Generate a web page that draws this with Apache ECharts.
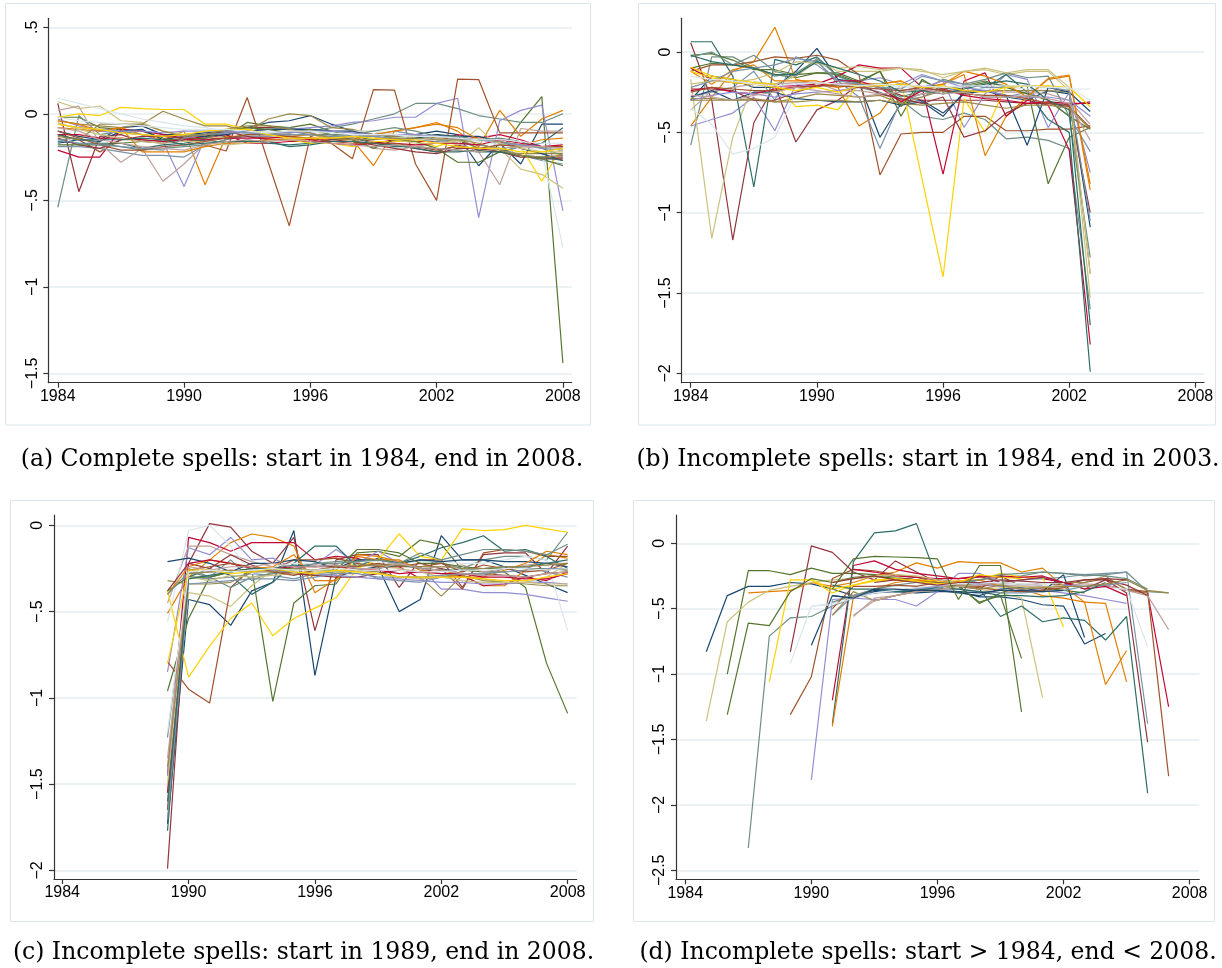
<!DOCTYPE html>
<html><head><meta charset="utf-8">
<script src="https://cdn.jsdelivr.net/npm/echarts@6/dist/echarts.min.js"></script>
<style>html,body{margin:0;padding:0;background:#fff}#c{width:1222px;height:968px}</style>
</head><body><div id="c"></div>
<script>
// Stata s2color palette (p1..p15)
const palette = ['#1a476f','#90353b','#55752f','#e37e00','#6e8e84','#c10534','#938dd2','#cac27e','#a0522d','#7b92a8','#2d6d66','#9c8847','#bfa19c','#ffd200','#d9e6eb'];

const xTicks = [1984, 1990, 1996, 2002, 2008];
const yTicksA = [0.5, 0, -0.5, -1, -1.5];
const yTicksB = [0, -0.5, -1, -1.5, -2];
const yTicksC = [0, -0.5, -1, -1.5, -2];
const yTicksD = [0, -0.5, -1, -1.5, -2, -2.5];

const captions = [
  '(a) Complete spells: start in 1984, end in 2008.',
  '(b) Incomplete spells: start in 1984, end in 2003.',
  '(c) Incomplete spells: start in 1989, end in 2008.',
  '(d) Incomplete spells: start > 1984, end < 2008.'
];

// Panel (a): every series 1984..2008
const startA = 1984;
const panelA = [
  [-0.10,-0.13,-0.15,-0.08,-0.07,-0.12,-0.12,-0.11,-0.10,-0.08,-0.05,-0.04,-0.01,-0.06,-0.10,-0.12,-0.13,-0.12,-0.10,-0.12,-0.30,-0.17,-0.29,-0.06,-0.06],
  [0.06,-0.45,-0.13,-0.12,-0.16,-0.17,-0.15,-0.13,-0.10,-0.08,-0.08,-0.08,-0.11,-0.15,-0.14,-0.16,-0.18,-0.20,-0.22,-0.18,-0.21,-0.22,-0.25,-0.25,-0.25],
  [-0.02,-0.02,-0.08,-0.09,-0.10,-0.14,-0.16,-0.15,-0.13,-0.05,-0.07,-0.08,-0.06,-0.10,-0.13,-0.15,-0.12,-0.14,-0.12,-0.15,-0.20,-0.22,-0.05,0.10,-1.44],
  [-0.08,-0.09,-0.10,-0.08,-0.12,-0.15,-0.10,-0.41,-0.13,-0.13,-0.14,-0.13,-0.12,-0.14,-0.15,-0.30,-0.10,-0.08,-0.05,-0.10,-0.19,0.02,-0.13,-0.03,0.02],
  [-0.54,-0.01,-0.12,-0.10,-0.12,-0.13,-0.12,-0.12,-0.11,-0.10,-0.09,-0.08,-0.10,-0.08,-0.06,-0.03,0.00,0.06,0.06,0.03,-0.01,-0.03,-0.05,-0.05,0.00],
  [-0.21,-0.25,-0.25,-0.09,-0.10,-0.12,-0.14,-0.14,-0.12,-0.17,-0.17,-0.16,-0.16,-0.16,-0.16,-0.17,-0.15,-0.16,-0.16,-0.12,-0.14,-0.12,-0.15,-0.19,-0.18],
  [-0.03,-0.07,-0.10,-0.11,-0.12,-0.16,-0.42,-0.14,-0.11,-0.10,-0.09,-0.09,-0.08,-0.07,-0.05,-0.04,-0.02,-0.02,0.06,0.09,-0.60,-0.04,0.02,0.05,-0.56],
  [0.07,0.03,0.045,-0.04,-0.05,-0.10,-0.12,-0.13,-0.14,-0.12,-0.12,-0.11,-0.10,-0.12,-0.10,-0.10,-0.12,-0.13,-0.15,-0.18,-0.08,-0.20,-0.32,-0.35,-0.43],
  [-0.12,-0.15,-0.22,-0.15,-0.15,-0.16,-0.14,-0.18,-0.215,0.094,-0.28,-0.648,-0.13,-0.17,-0.26,0.14,0.137,-0.29,-0.50,0.20,0.198,-0.11,-0.11,-0.11,-0.11],
  [-0.19,-0.19,-0.20,-0.22,-0.24,-0.24,-0.25,-0.18,-0.15,-0.13,-0.13,-0.12,-0.12,-0.12,-0.13,-0.12,-0.10,-0.12,-0.15,-0.17,-0.18,-0.20,-0.24,-0.27,-0.29],
  [-0.16,-0.17,-0.17,-0.17,-0.20,-0.18,-0.17,-0.15,-0.17,-0.15,-0.17,-0.18,-0.17,-0.15,-0.14,-0.17,-0.18,-0.20,-0.22,-0.22,-0.21,-0.22,-0.19,-0.17,-0.08],
  [-0.04,-0.06,-0.07,-0.08,-0.06,0.015,-0.03,-0.07,-0.07,-0.10,-0.03,0.00,-0.01,-0.08,-0.09,-0.12,-0.13,-0.12,-0.14,-0.14,-0.20,-0.22,-0.23,-0.23,-0.23],
  [0.02,0.044,-0.17,-0.28,-0.20,-0.39,-0.29,-0.17,-0.17,-0.16,-0.15,-0.14,-0.14,-0.13,-0.14,-0.20,-0.21,-0.19,-0.17,-0.17,-0.22,-0.41,-0.085,-0.10,-0.10],
  [-0.02,0.00,-0.01,0.037,0.03,0.025,0.025,-0.06,-0.06,-0.09,-0.11,-0.15,-0.17,-0.17,-0.19,-0.16,-0.16,-0.16,-0.19,-0.15,-0.15,-0.165,-0.19,-0.39,-0.18],
  [0.09,0.06,0.03,0.00,-0.03,-0.05,-0.07,-0.08,-0.10,-0.10,-0.10,-0.10,-0.11,-0.10,-0.10,-0.10,-0.12,-0.14,-0.15,-0.15,-0.16,-0.18,-0.18,-0.22,-0.77],
  [-0.17,-0.15,-0.16,-0.10,-0.09,-0.15,-0.13,-0.13,-0.12,-0.10,-0.09,-0.09,-0.09,-0.10,-0.10,-0.13,-0.15,-0.14,-0.12,-0.13,-0.13,-0.16,-0.20,-0.23,-0.27],
  [-0.14,-0.18,-0.20,-0.15,-0.13,-0.13,-0.14,-0.12,-0.10,-0.13,-0.15,-0.15,-0.15,-0.15,-0.16,-0.18,-0.20,-0.22,-0.23,-0.20,-0.20,-0.22,-0.24,-0.26,-0.26],
  [-0.18,-0.18,-0.18,-0.17,-0.16,-0.15,-0.15,-0.14,-0.10,-0.08,-0.09,-0.11,-0.09,-0.12,-0.15,-0.20,-0.15,-0.16,-0.20,-0.28,-0.28,-0.22,-0.24,-0.26,-0.30],
  [-0.04,-0.06,-0.10,-0.08,-0.22,-0.22,-0.22,-0.19,-0.17,-0.17,-0.15,-0.15,-0.15,-0.14,-0.15,-0.12,-0.10,-0.08,-0.06,-0.08,-0.15,-0.16,-0.18,-0.15,-0.14],
  [-0.15,-0.14,-0.17,-0.19,-0.21,-0.20,-0.19,-0.18,-0.15,-0.12,-0.12,-0.10,-0.12,-0.12,-0.12,-0.10,-0.08,-0.10,-0.13,-0.13,-0.15,-0.14,-0.16,-0.20,-0.24],
  [-0.12,-0.12,-0.14,-0.14,-0.15,-0.16,-0.15,-0.15,-0.14,-0.14,-0.14,-0.13,-0.15,-0.17,-0.18,-0.17,-0.17,-0.18,-0.17,-0.17,-0.18,-0.15,-0.17,-0.19,-0.19],
  [-0.06,-0.08,-0.09,-0.10,-0.10,-0.11,-0.10,-0.10,-0.10,-0.11,-0.11,-0.11,-0.10,-0.10,-0.11,-0.12,-0.12,-0.12,-0.13,-0.14,-0.15,-0.17,-0.18,-0.19,-0.20],
  [-0.05,-0.09,-0.12,-0.14,-0.16,-0.17,-0.16,-0.16,-0.18,-0.17,-0.16,-0.15,-0.14,-0.13,-0.13,-0.13,-0.15,-0.17,-0.17,-0.16,-0.14,-0.17,-0.20,-0.22,-0.22],
  [-0.10,-0.14,-0.18,-0.21,-0.21,-0.19,-0.18,-0.16,-0.14,-0.12,-0.12,-0.13,-0.14,-0.16,-0.17,-0.17,-0.17,-0.19,-0.21,-0.19,-0.20,-0.18,-0.19,-0.19,-0.19],
  [-0.15,-0.17,-0.18,-0.19,-0.20,-0.21,-0.14,-0.12,-0.11,-0.11,-0.12,-0.12,-0.12,-0.13,-0.13,-0.13,-0.14,-0.15,-0.16,-0.15,-0.15,-0.16,-0.18,-0.20,-0.21],
  [-0.12,-0.15,-0.15,-0.15,-0.14,-0.15,-0.18,-0.17,-0.16,-0.16,-0.16,-0.19,-0.18,-0.16,-0.16,-0.17,-0.19,-0.19,-0.20,-0.21,-0.22,-0.22,-0.24,-0.25,-0.27],
  [-0.13,-0.15,-0.06,-0.06,-0.06,-0.10,-0.13,-0.12,-0.09,-0.07,-0.07,-0.09,-0.11,-0.14,-0.15,-0.15,-0.14,-0.14,-0.15,-0.15,-0.17,-0.21,-0.24,-0.25,-0.24],
  [-0.08,-0.10,-0.15,-0.17,-0.19,-0.20,-0.21,-0.18,-0.16,-0.15,-0.16,-0.15,-0.16,-0.17,-0.18,-0.19,-0.18,-0.19,-0.20,-0.21,-0.22,-0.20,-0.19,-0.19,-0.20],
  [-0.06,-0.08,-0.09,-0.11,-0.12,-0.13,-0.12,-0.10,-0.09,-0.09,-0.12,-0.14,-0.14,-0.14,-0.13,-0.14,-0.15,-0.15,-0.17,-0.19,-0.20,-0.20,-0.22,-0.22,-0.20],
  [-0.02,-0.04,-0.05,-0.06,-0.07,-0.08,-0.09,-0.09,-0.09,-0.10,-0.11,-0.10,-0.10,-0.11,-0.12,-0.12,-0.12,-0.13,-0.13,-0.14,-0.15,-0.15,-0.16,-0.17,-0.17]
];

// Panel (b): every series 1984..2003
const startB = 1984;
const panelB = [
  [-0.30,-0.15,-0.17,-0.22,-0.22,-0.12,0.023,-0.17,-0.19,-0.53,-0.32,-0.30,-0.38,-0.26,-0.24,-0.28,-0.30,-0.24,-0.26,-1.09],
  [0.058,-0.30,-1.17,-0.44,-0.205,-0.56,-0.36,-0.30,-0.20,-0.22,-0.27,-0.30,-0.30,-0.30,-0.30,-0.31,-0.32,-0.32,-0.33,-1.00],
  [-0.10,-0.07,-0.08,-0.10,-0.14,-0.16,-0.13,-0.13,-0.18,-0.12,-0.40,-0.17,-0.25,-0.22,-0.19,-0.21,-0.21,-0.82,-0.53,-0.47],
  [-0.46,-0.28,-0.12,-0.06,0.154,-0.17,-0.20,-0.22,-0.46,-0.38,-0.20,-0.22,-0.20,-0.14,-0.645,-0.40,-0.28,-0.164,-0.143,-0.86],
  [-0.58,-0.03,-0.03,-0.10,-0.15,-0.13,-0.05,-0.20,-0.22,-0.25,-0.30,-0.40,-0.42,-0.38,-0.42,-0.54,-0.53,-0.55,-0.60,-1.60],
  [-0.10,-0.17,-0.19,-0.20,-0.21,-0.21,-0.20,-0.15,-0.08,-0.10,-0.10,-0.22,-0.76,-0.18,-0.13,-0.40,-0.30,-0.33,-0.61,-1.82],
  [-0.46,-0.42,-0.38,-0.28,-0.49,-0.20,-0.22,-0.18,-0.18,-0.16,-0.20,-0.14,-0.18,-0.47,-0.26,-0.14,-0.17,-0.47,-0.25,-0.75],
  [-0.17,-1.16,-0.53,-0.185,-0.20,-0.15,-0.06,-0.12,-0.12,-0.12,-0.10,-0.11,-0.16,-0.12,-0.11,-0.14,-0.12,-0.12,-0.24,-1.53],
  [-0.12,-0.08,-0.08,-0.06,-0.03,-0.04,-0.02,-0.05,-0.14,-0.765,-0.51,-0.50,-0.50,-0.40,-0.40,-0.49,-0.49,-0.48,-0.48,-0.46],
  [-0.28,-0.25,-0.22,-0.12,-0.30,-0.03,-0.08,-0.18,-0.28,-0.60,-0.30,-0.28,-0.22,-0.25,-0.28,-0.28,-0.25,-0.30,-0.40,-0.62],
  [0.064,0.064,-0.15,-0.84,-0.046,-0.08,-0.03,-0.15,-0.20,-0.20,-0.30,-0.26,-0.24,-0.25,-0.22,-0.14,-0.25,-0.42,-0.50,-1.99],
  [-0.29,-0.29,-0.30,-0.30,-0.31,-0.29,-0.26,-0.27,-0.28,-0.27,-0.32,-0.28,-0.24,-0.24,-0.24,-0.24,-0.24,-0.24,-0.25,-1.38],
  [-0.36,-0.24,-0.22,-0.20,-0.20,-0.19,-0.19,-0.24,-0.24,-0.26,-0.30,-0.26,-0.24,-0.24,-0.24,-0.25,-0.25,-0.26,-0.30,-0.45],
  [-0.095,-0.15,-0.17,-0.19,-0.20,-0.34,-0.33,-0.36,-0.20,-0.20,-0.18,-0.79,-1.40,-0.29,-0.50,-0.21,-0.21,-0.21,-0.22,-0.34],
  [-0.35,-0.45,-0.635,-0.60,-0.53,-0.26,-0.20,-0.20,-0.22,-0.21,-0.22,-0.22,-0.22,-0.22,-0.23,-0.22,-0.23,-0.23,-0.23,-0.23],
  [-0.28,-0.24,-0.30,-0.25,-0.25,-0.29,-0.30,-0.31,-0.31,-0.30,-0.33,-0.31,-0.40,-0.25,-0.24,-0.27,-0.58,-0.22,-0.25,-0.37],
  [-0.23,-0.23,-0.24,-0.30,-0.30,-0.25,-0.21,-0.20,-0.20,-0.26,-0.29,-0.32,-0.28,-0.53,-0.49,-0.38,-0.32,-0.32,-0.33,-0.31],
  [-0.02,-0.01,-0.05,-0.11,-0.11,-0.14,-0.13,-0.14,-0.19,-0.12,-0.34,-0.18,-0.23,-0.21,-0.18,-0.22,-0.26,-0.30,-0.40,-0.48],
  [-0.12,-0.20,-0.11,-0.08,-0.18,-0.18,-0.18,-0.22,-0.20,-0.20,-0.18,-0.24,-0.20,-0.12,-0.15,-0.20,-0.28,-0.17,-0.15,-0.82],
  [-0.03,0.00,-0.08,-0.02,-0.12,-0.15,-0.04,-0.15,-0.20,-0.22,-0.28,-0.24,-0.17,-0.20,-0.17,-0.13,-0.16,-0.15,-0.40,-1.28],
  [-0.24,-0.22,-0.25,-0.26,-0.23,-0.22,-0.21,-0.18,-0.18,-0.22,-0.31,-0.24,-0.23,-0.27,-0.29,-0.30,-0.32,-0.31,-0.32,-0.32],
  [-0.30,-0.27,-0.25,-0.26,-0.28,-0.26,-0.25,-0.24,-0.22,-0.23,-0.24,-0.22,-0.18,-0.22,-0.24,-0.27,-0.28,-0.28,-0.30,-0.40],
  [-0.20,-0.18,-0.19,-0.17,-0.13,-0.06,-0.07,-0.10,-0.09,-0.11,-0.10,-0.12,-0.14,-0.12,-0.10,-0.13,-0.11,-0.11,-0.22,-1.38],
  [-0.25,-0.22,-0.23,-0.24,-0.24,-0.22,-0.21,-0.21,-0.22,-0.23,-0.24,-0.22,-0.24,-0.26,-0.27,-0.27,-0.29,-0.32,-0.34,-0.47],
  [-0.22,-0.18,-0.12,-0.10,-0.08,-0.04,-0.06,-0.18,-0.20,-0.22,-0.23,-0.15,-0.18,-0.20,-0.22,-0.22,-0.21,-0.22,-0.24,-1.05],
  [-0.02,-0.06,-0.08,-0.10,-0.14,-0.14,-0.06,-0.10,-0.14,-0.18,-0.25,-0.24,-0.26,-0.23,-0.20,-0.18,-0.20,-0.30,-0.36,-1.70],
  [-0.30,-0.30,-0.30,-0.29,-0.31,-0.31,-0.30,-0.30,-0.31,-0.30,-0.32,-0.33,-0.32,-0.31,-0.33,-0.35,-0.33,-0.33,-0.35,-0.48],
  [-0.27,-0.28,-0.30,-0.27,-0.25,-0.22,-0.24,-0.26,-0.28,-0.26,-0.25,-0.23,-0.26,-0.25,-0.28,-0.28,-0.27,-0.29,-0.32,-0.55],
  [-0.12,-0.16,-0.19,-0.20,-0.22,-0.24,-0.22,-0.25,-0.21,-0.21,-0.20,-0.22,-0.21,-0.24,-0.25,-0.22,-0.21,-0.22,-0.22,-0.34],
  [-0.15,-0.17,-0.18,-0.20,-0.21,-0.20,-0.19,-0.20,-0.21,-0.20,-0.21,-0.21,-0.22,-0.21,-0.21,-0.21,-0.21,-0.22,-0.22,-0.30]
];

// Panel (c): every series 1989..2008
const startC = 1989;
const panelC = [
  [-1.73,-0.43,-0.46,-0.58,-0.38,-0.33,-0.03,-0.87,-0.30,-0.26,-0.24,-0.50,-0.43,-0.06,-0.20,-0.20,-0.24,-0.29,-0.34,-0.39],
  [-1.99,-0.22,0.01,-0.01,-0.15,-0.22,-0.07,-0.61,-0.20,-0.17,-0.17,-0.36,-0.20,-0.20,-0.36,-0.17,-0.16,-0.16,-0.28,-0.12],
  [-0.96,-0.54,-0.30,-0.27,-0.25,-1.02,-0.45,-0.35,-0.34,-0.16,-0.15,-0.18,-0.085,-0.11,-0.26,-0.27,-0.27,-0.36,-0.80,-1.09],
  [-0.51,-0.30,-0.20,-0.10,-0.05,-0.07,-0.12,-0.39,-0.31,-0.17,-0.18,-0.21,-0.25,-0.26,-0.29,-0.35,-0.35,-0.26,-0.17,-0.19],
  [-1.23,-0.25,-0.30,-0.20,-0.32,-0.27,-0.24,-0.22,-0.21,-0.20,-0.23,-0.22,-0.20,-0.22,-0.25,-0.20,-0.18,-0.18,-0.20,-0.04],
  [-1.45,-0.07,-0.10,-0.15,-0.10,-0.10,-0.10,-0.20,-0.18,-0.19,-0.24,-0.24,-0.31,-0.30,-0.29,-0.35,-0.34,-0.30,-0.32,-0.27],
  [-0.85,-0.13,-0.17,-0.07,-0.20,-0.19,-0.25,-0.23,-0.14,-0.22,-0.15,-0.22,-0.24,-0.37,-0.37,-0.39,-0.39,-0.40,-0.42,-0.44],
  [-1.55,-0.39,-0.41,-0.47,-0.35,-0.26,-0.28,-0.27,-0.27,-0.22,-0.24,-0.25,-0.27,-0.30,-0.30,-0.31,-0.33,-0.33,-0.30,-0.22],
  [-0.79,-0.95,-1.03,-0.36,-0.25,-0.26,-0.20,-0.20,-0.19,-0.22,-0.24,-0.24,-0.22,-0.25,-0.37,-0.16,-0.14,-0.15,-0.18,-0.18],
  [-1.65,-0.30,-0.31,-0.30,-0.28,-0.29,-0.31,-0.28,-0.27,-0.26,-0.31,-0.32,-0.33,-0.30,-0.28,-0.29,-0.25,-0.24,-0.27,-0.30],
  [-1.77,-0.30,-0.25,-0.29,-0.40,-0.33,-0.22,-0.12,-0.12,-0.24,-0.19,-0.22,-0.18,-0.13,-0.10,-0.06,-0.15,-0.14,-0.18,-0.25],
  [-0.32,-0.34,-0.34,-0.33,-0.27,-0.25,-0.28,-0.29,-0.28,-0.26,-0.27,-0.30,-0.30,-0.41,-0.29,-0.32,-0.33,-0.34,-0.35,-0.35],
  [-0.45,-0.12,-0.12,-0.17,-0.21,-0.24,-0.25,-0.23,-0.23,-0.24,-0.23,-0.22,-0.25,-0.24,-0.23,-0.27,-0.25,-0.23,-0.22,-0.22],
  [-0.38,-0.88,-0.70,-0.54,-0.45,-0.64,-0.54,-0.48,-0.42,-0.25,-0.20,-0.05,-0.18,-0.20,-0.02,-0.03,-0.025,0.00,-0.02,-0.04],
  [-0.56,-0.03,0.00,-0.12,-0.28,-0.24,-0.22,-0.22,-0.22,-0.21,-0.21,-0.22,-0.21,-0.21,-0.22,-0.22,-0.20,-0.18,-0.20,-0.61],
  [-0.21,-0.19,-0.22,-0.27,-0.22,-0.22,-0.20,-0.21,-0.25,-0.20,-0.20,-0.22,-0.20,-0.21,-0.20,-0.20,-0.21,-0.21,-0.22,-0.24],
  [-0.38,-0.22,-0.25,-0.17,-0.23,-0.27,-0.28,-0.29,-0.30,-0.30,-0.28,-0.26,-0.27,-0.25,-0.28,-0.28,-0.29,-0.30,-0.28,-0.27],
  [-0.38,-0.30,-0.30,-0.27,-0.25,-0.25,-0.25,-0.26,-0.26,-0.14,-0.14,-0.16,-0.22,-0.22,-0.24,-0.25,-0.25,-0.25,-0.25,-0.26],
  [-0.40,-0.24,-0.20,-0.22,-0.25,-0.24,-0.17,-0.32,-0.32,-0.18,-0.20,-0.20,-0.26,-0.28,-0.30,-0.30,-0.26,-0.22,-0.15,-0.17],
  [-0.40,-0.27,-0.30,-0.36,-0.30,-0.28,-0.26,-0.22,-0.22,-0.21,-0.20,-0.22,-0.16,-0.20,-0.17,-0.14,-0.14,-0.15,-0.17,-0.11],
  [-1.55,-0.22,-0.20,-0.22,-0.25,-0.25,-0.24,-0.24,-0.24,-0.25,-0.26,-0.28,-0.27,-0.28,-0.28,-0.30,-0.30,-0.31,-0.31,-0.28],
  [-1.45,-0.28,-0.27,-0.27,-0.26,-0.26,-0.27,-0.28,-0.29,-0.30,-0.31,-0.31,-0.32,-0.33,-0.33,-0.34,-0.34,-0.33,-0.33,-0.34],
  [-1.50,-0.30,-0.32,-0.29,-0.30,-0.29,-0.28,-0.26,-0.27,-0.27,-0.28,-0.30,-0.31,-0.30,-0.32,-0.33,-0.33,-0.33,-0.34,-0.34],
  [-1.65,-0.26,-0.24,-0.22,-0.24,-0.27,-0.29,-0.26,-0.24,-0.24,-0.22,-0.24,-0.24,-0.22,-0.27,-0.23,-0.25,-0.27,-0.26,-0.22],
  [-1.70,-0.34,-0.33,-0.32,-0.31,-0.31,-0.32,-0.30,-0.28,-0.28,-0.30,-0.30,-0.30,-0.29,-0.28,-0.28,-0.27,-0.26,-0.25,-0.25],
  [-1.60,-0.31,-0.29,-0.27,-0.25,-0.25,-0.23,-0.24,-0.23,-0.25,-0.25,-0.23,-0.25,-0.26,-0.26,-0.25,-0.24,-0.24,-0.22,-0.20],
  [-1.40,-0.28,-0.27,-0.26,-0.27,-0.27,-0.25,-0.26,-0.24,-0.23,-0.23,-0.23,-0.24,-0.24,-0.25,-0.25,-0.24,-0.24,-0.23,-0.22],
  [-1.35,-0.24,-0.26,-0.24,-0.24,-0.22,-0.24,-0.24,-0.23,-0.25,-0.25,-0.22,-0.25,-0.26,-0.28,-0.29,-0.29,-0.30,-0.28,-0.27],
  [-0.80,-0.26,-0.26,-0.28,-0.27,-0.25,-0.27,-0.28,-0.26,-0.27,-0.28,-0.30,-0.30,-0.30,-0.30,-0.31,-0.32,-0.32,-0.30,-0.28],
  [-1.20,-0.27,-0.26,-0.27,-0.26,-0.25,-0.26,-0.26,-0.25,-0.26,-0.26,-0.26,-0.27,-0.27,-0.26,-0.26,-0.25,-0.25,-0.26,-0.25]
];

// Panel (d): each series has its own first year
const startD = [1985,1989,1986,1987,1987,1991,1990,1985,1989,1991,1991,1991,1992,1988,1989,
                1990,1993,1986,1991,1991,1992,1993,1991,1991,1992,1991,1993,1992,1990,1990,
                1991,1991,1991];
const panelD = [
  [-0.83,-0.40,-0.33,-0.33,-0.30,-0.31,-0.35,-0.40,-0.36,-0.37,-0.38,-0.37,-0.37,-0.41,-0.41,-0.43,-0.47,-0.48,-0.77,-0.69],
  [-0.83,-0.02,-0.07,-0.22,-0.28,-0.135,-0.22,-0.30,-0.33,-0.35,-0.25,-0.33,-0.30,-0.32,-0.28,-0.28,-0.38,-1.52],
  [-1.00,-0.21,-0.21,-0.24,-0.19,-0.23,-0.23,-0.24,-0.26,-0.28,-0.30,-0.32,-0.46,-0.38,-0.33,-0.34,-0.36,-0.38],
  [-0.38,-0.37,-0.36,-0.30,-0.33,-0.30,-0.25,-0.22,-0.15,-0.19,-0.14,-0.15,-0.15,-0.22,-0.19,-0.33,-0.45,-0.46,-1.06],
  [-2.33,-0.71,-0.57,-0.56,-0.48,-0.42,-0.38,-0.37,-0.35,-0.33,-0.32,-0.28,-0.26,-0.25,-0.22,-0.23,-0.25,-0.24,-0.22,-0.37,-0.38],
  [-1.20,-0.17,-0.135,-0.20,-0.23,-0.25,-0.27,-0.26,-0.25,-0.26,-0.27,-0.30,-0.33,-0.32,-0.36,-0.38,-1.25],
  [-1.81,-0.43,-0.42,-0.43,-0.43,-0.48,-0.37,-0.23,-0.23,-0.30,-0.34,-0.36,-0.38,-0.40,-0.43,-0.46],
  [-1.36,-0.60,-0.45,-0.36,-0.33,-0.30,-0.28,-0.27,-0.26,-0.26,-0.28,-0.30,-0.32,-0.35,-0.38,-0.42,-1.18],
  [-1.31,-1.02,-0.27,-0.20,-0.21,-0.24,-0.26,-0.30,-0.32,-0.33,-0.31,-0.32,-0.35,-0.34,-0.30,-0.27,-0.35,-0.37,-1.78],
  [-0.55,-0.40,-0.38,-0.36,-0.34,-0.33,-0.32,-0.32,-0.30,-0.28,-0.27,-0.26,-0.24,-0.23,-0.22,-1.38],
  [-1.38,-0.14,0.08,0.095,0.15,-0.28,-0.30,-0.35,-0.56,-0.48,-0.60,-0.57,-0.59,-0.74,-0.56,-1.91],
  [-0.55,-0.37,-0.44,-0.40,-0.37,-0.33,-0.33,-0.30,-0.30,-0.33,-0.34,-0.30,-0.30,-0.25,-0.36,-0.38],
  [-0.56,-0.42,-0.40,-0.36,-0.33,-0.32,-0.30,-0.32,-0.33,-0.33,-0.32,-0.31,-0.32,-0.36,-0.40,-0.66],
  [-1.06,-0.28,-0.28,-0.38,-0.32,-0.29,-0.28,-0.28,-0.29,-0.29,-0.28,-0.23,-0.26,-0.26,-0.64],
  [-0.92,-0.48,-0.46,-0.40,-0.35,-0.33,-0.32,-0.31,-0.30,-0.30,-0.31,-0.32,-0.32,-0.33,-0.32,-0.34,-0.35,-0.79],
  [-0.78,-0.40,-0.42,-0.37,-0.37,-0.37,-0.36,-0.38,-0.40,-0.35,-0.34,-0.37,-0.24,-0.72],
  [-0.30,-0.28,-0.26,-0.28,-0.30,-0.25,-0.30,-0.28,-0.26,-0.30,-0.35,-0.28,-0.32,-0.40],
  [-1.31,-0.61,-0.63,-0.37,-0.27,-0.30,-0.26,-0.25,-0.27,-0.29,-0.30,-0.33,-0.45,-0.40,-0.88],
  [-1.40,-0.41,-0.35,-0.30,-0.28,-0.30,-0.29,-0.28,-0.33,-0.35,-0.40,-0.42,-0.45,-1.08,-0.82],
  [-0.45,-0.40,-0.35,-0.32,-0.30,-0.30,-0.30,-0.28,-0.24,-0.23,-0.22,-0.23,-0.24,-0.25,-0.27,-0.35],
  [-0.20,-0.22,-0.25,-0.26,-0.27,-0.27,-0.25,-0.26,-0.26,-0.25,-0.30,-0.35,-0.33,-0.40],
  [-0.38,-0.36,-0.35,-0.33,-0.30,-0.31,-0.33,-0.35,-0.34,-0.32,-0.33],
  [-0.30,-0.27,-0.25,-0.24,-0.25,-0.28,-0.30,-0.35,-0.34,-0.33,-0.34,-0.32],
  [-0.50,-0.33,-0.33,-0.32,-0.33,-0.30,-0.32,-0.34,-0.36,-0.37,-0.36,-0.34],
  [-0.40,-0.38,-0.36,-0.35,-0.35,-0.35,-0.37,-0.38,-0.38,-0.37,-0.36,-0.33,-0.32,-0.30],
  [-0.32,-0.35,-0.35,-0.37,-0.36,-0.34,-0.35,-0.37,-0.40,-0.40,-0.41,-0.40,-0.37,-0.30],
  [-0.44,-0.40,-0.37,-0.36,-0.32,-0.35,-0.32,-0.35,-0.34,-0.33,-0.33,-0.31,-0.28,-0.36,-0.38],
  [-0.55,-0.44,-0.40,-0.37,-0.36,-0.33,-0.32,-0.30,-0.31,-0.32],
  [-0.28,-0.35,-0.32,-0.28,-0.27,-0.29,-0.31,-0.30,-0.24,-0.26,-0.27],
  [-0.48,-0.47,-0.42,-0.38,-0.36,-0.34,-0.32,-0.31,-0.30,-0.30,-0.31,-0.31,-0.30],
  [-0.40,-0.42,-0.35,-0.35,-0.36,-0.36,-0.37,-0.38,-0.36,-0.36,-0.37,-0.36],
  [-0.30,-0.27,-0.25,-0.28,-0.30,-0.32,-0.30,-0.30,-0.28,-0.29,-0.30,-0.30,-0.28,-0.27,-0.28],
  [-0.35,-0.12,-0.10,-0.105,-0.11,-0.12,-0.43,-0.17,-0.17,-1.29]
];

// ---- layout (pixels) ----
const grids = [
  {left:48.3, top:18.3, width:523.4, height:364.4},
  {left:681.7, top:18.3, width:522.3, height:364.4},
  {left:54, top:515, width:522.7, height:364},
  {left:676, top:515, width:523.3, height:364.3}
];
const xRanges = [[1983.55,2008.42],[1983.57,2008.41],[1983.61,2008.43],[1983.56,2008.46]];
const yRanges = [[-1.554,0.552],[-2.058,0.21],[-2.05,0.06],[-2.569,0.216]];
const yTicks = [yTicksA, yTicksB, yTicksC, yTicksD];
const frames = [[5.5,3.5,585,421.5],[638.5,3.5,577,421.5],[10.5,500.5,583,421],[633.5,500.5,581,421]];
const capPos = [[302,460],[928,460],[303.5,953],[928,953]];

function fmtY(v){
  if (Math.abs(v) < 1e-9) return '0';
  let s = String(Math.abs(v));
  if (s.startsWith('0.')) s = s.slice(1);
  return (v < 0 ? '\u2212' : '') + s;
}

const axisCol = '#333';
const xAxes = [], yAxes = [], series = [];
for (let g = 0; g < 4; g++) {
  xAxes.push({
    type:'value', gridIndex:g, min:xRanges[g][0], max:xRanges[g][1],
    axisLine:{show:true, onZero:false, lineStyle:{color:axisCol, width:1.2}},
    axisTick:{show:true, length:5, customValues:xTicks, lineStyle:{color:axisCol, width:1.2}},
    axisLabel:{customValues:xTicks, color:'#000', fontFamily:'Liberation Sans', fontSize:16, margin:6, formatter:v=>String(v)},
    splitLine:{show:false}
  });
  yAxes.push({
    type:'value', gridIndex:g, min:yRanges[g][0], max:yRanges[g][1],
    axisLine:{show:true, onZero:false, lineStyle:{color:axisCol, width:1.2}},
    axisTick:{show:true, length:5, customValues:yTicks[g], lineStyle:{color:axisCol, width:1.2}},
    axisLabel:{customValues:yTicks[g], rotate:90, color:'#000', fontFamily:'Liberation Sans', fontSize:16, margin:8, formatter:fmtY},
    splitLine:{show:true, lineStyle:{color:'#e6eef1', width:1.5}}
  });
}

function addPanel(g, rows, starts){
  rows.forEach((vals, i) => {
    const st = Array.isArray(starts) ? starts[i] : starts;
    const col = palette[i % 15];
    series.push({
      type:'line', xAxisIndex:g, yAxisIndex:g, symbol:'none', silent:true,
      data: vals.map((v, k) => [st + k, v]),
      lineStyle:{width:1.2, color:col}, itemStyle:{color:col}
    });
  });
}
addPanel(0, panelA, startA);
addPanel(1, panelB, startB);
addPanel(2, panelC, startC);
addPanel(3, panelD, startD);

const graphic = [];
frames.forEach(f => graphic.push({type:'rect', z:-10, silent:true,
  shape:{x:f[0], y:f[1], width:f[2], height:f[3]}, style:{fill:'none', stroke:'#dbe6ea', lineWidth:1}}));
captions.forEach((t, i) => graphic.push({type:'text', silent:true,
  x:capPos[i][0], y:capPos[i][1],
  style:{text:t, textAlign:'center', textVerticalAlign:'middle', font:'23.5px "DejaVu Serif"', fill:'#000'}}));

const chart = echarts.init(document.getElementById('c'), null, {renderer:'canvas'});
chart.setOption({
  animation:false,
  backgroundColor:'#fff',
  grid: grids.map(g => Object.assign({containLabel:false}, g)),
  xAxis: xAxes, yAxis: yAxes,
  series: series,
  graphic: graphic
});
</script>
</body></html>
